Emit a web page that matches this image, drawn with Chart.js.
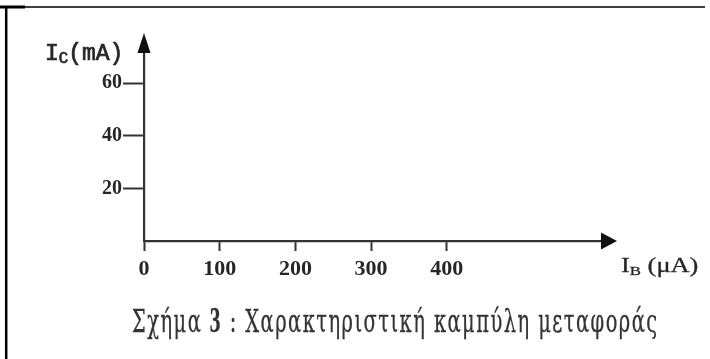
<!DOCTYPE html>
<html>
<head>
<meta charset="utf-8">
<script src="https://cdn.jsdelivr.net/npm/chart.js@4/dist/chart.umd.min.js"></script>
<style>
  html, body { margin: 0; padding: 0; background: #fff; }
  #wrap { width: 710px; height: 359px; position: relative; }
</style>
</head>
<body>
<div id="wrap"><canvas id="c" width="710" height="359"></canvas></div>
<script>
// ---- data (the reference is an empty transfer-characteristic grid) ----
const xTickValues = [0, 100, 200, 300, 400];      // I_B (μA)
const yTickValues = [20, 40, 60];                 // I_C (mA)
const xAxisMax = 605;
const yAxisMax = 71.8;
const seriesPoints = [];                           // no curve drawn in the reference
const yAxisTitle = ['I', 'C', '(mA)'];
const xAxisTitle = ['I', 'B', ' (μA)'];
const captionParts = ['Σχήμα ', '3', ' : Χαρακτηριστική καμπύλη μεταφοράς'];

const INK = '#262626';
const AXIS = '#333';

function fitText(ctx, parts, box) {
  ctx.save();
  ctx.letterSpacing = box.spacing || '0px';
  let adv = 0, asc = 0, desc = 0;
  const ms = [];
  parts.forEach(p => {
    ctx.font = p.font;
    const m = ctx.measureText(p.t);
    ms.push({ m, x: adv });
    adv += m.width;
    asc = Math.max(asc, m.actualBoundingBoxAscent - (p.dy || 0));
    desc = Math.max(desc, m.actualBoundingBoxDescent + (p.dy || 0));
  });
  const inkStart = -ms[0].m.actualBoundingBoxLeft;
  const last = ms[ms.length - 1];
  const inkEnd = last.x + last.m.actualBoundingBoxRight;
  const sx = (box.x1 - box.x0) / (inkEnd - inkStart);
  const sy = (box.y1 - box.y0) / (asc + desc);
  ctx.fillStyle = box.color || INK;
  ctx.strokeStyle = box.color || INK;
  ctx.lineWidth = box.stroke || 0;
  ctx.textAlign = 'left';
  ctx.textBaseline = 'alphabetic';
  ctx.translate(box.x0 - inkStart * sx, box.y0 + asc * sy);
  ctx.scale(sx, sy);
  parts.forEach((p, i) => {
    ctx.font = p.font;
    ctx.fillText(p.t, ms[i].x, p.dy || 0);
    if (box.stroke) ctx.strokeText(p.t, ms[i].x, p.dy || 0);
  });
  ctx.restore();
}

const decor = {
  id: 'decor',
  beforeDraw(chart) {
    const ctx = chart.ctx;
    ctx.save();
    ctx.fillStyle = '#fff';
    ctx.fillRect(0, 0, chart.width, chart.height);
    ctx.strokeStyle = '#000';
    ctx.lineWidth = 1.5;
    ctx.beginPath(); ctx.moveTo(0, 7); ctx.lineTo(705, 7); ctx.stroke();
    ctx.lineWidth = 3;
    ctx.beginPath(); ctx.moveTo(0, 7); ctx.lineTo(25, 7); ctx.stroke();
    ctx.lineWidth = 2.5;
    ctx.beginPath(); ctx.moveTo(6.2, 6); ctx.lineTo(6.2, 359); ctx.stroke();
    ctx.restore();
  },
  afterDraw(chart) {
    const ctx = chart.ctx;
    const a = chart.chartArea;
    ctx.save();
    ctx.fillStyle = '#111';
    ctx.beginPath();
    ctx.moveTo(a.left, a.top - 19);
    ctx.lineTo(a.left - 6.5, a.top + 1);
    ctx.lineTo(a.left + 6.5, a.top + 1);
    ctx.closePath(); ctx.fill();
    ctx.beginPath();
    ctx.moveTo(a.right + 15, a.bottom);
    ctx.lineTo(a.right - 1, a.bottom - 8.5);
    ctx.lineTo(a.right - 1, a.bottom + 8.5);
    ctx.closePath(); ctx.fill();
    ctx.restore();

    const mono = "'Liberation Mono', 'Courier New', monospace";
    const serif = "'Liberation Serif', 'Times New Roman', serif";
    const dserif = "'DejaVu Serif', 'Liberation Serif', serif";
    fitText(ctx, [
      { t: yAxisTitle[0], font: '22px ' + mono },
      { t: yAxisTitle[1], font: '15px ' + mono, dy: 3 },
      { t: yAxisTitle[2], font: '22px ' + mono }
    ], { x0: 47, x1: 120, y0: 43, y1: 65, stroke: 0.7 });
    fitText(ctx, [
      { t: xAxisTitle[0], font: '22px ' + serif },
      { t: xAxisTitle[1], font: '14px ' + serif, dy: 3 },
      { t: xAxisTitle[2], font: '22px ' + serif }
    ], { x0: 621, x1: 698, y0: 258, y1: 277, stroke: 0.3 });
    fitText(ctx, [
      { t: captionParts[0], font: '20px ' + dserif },
      { t: captionParts[1], font: 'bold 22px ' + serif },
      { t: captionParts[2], font: '20px ' + dserif }
    ], { x0: 132, x1: 657, y0: 304, y1: 338, color: '#333', stroke: 0.2, spacing: '1.5px' });
  }
};

new Chart(document.getElementById('c'), {
  type: 'scatter',
  data: { datasets: [{ data: seriesPoints, showLine: true, borderColor: INK, pointRadius: 0 }] },
  options: {
    responsive: false,
    animation: false,
    events: [],
    layout: { padding: { left: 0, right: 108, top: 52, bottom: 0 } },
    plugins: { legend: { display: false }, tooltip: { enabled: false }, title: { display: false } },
    scales: {
      x: {
        type: 'linear', min: 0, max: xAxisMax,
        afterBuildTicks: s => { s.ticks = xTickValues.map(v => ({ value: v })); },
        afterFit: s => { s.height = 118; },
        border: { display: true, color: AXIS, width: 2.2 },
        grid: { drawOnChartArea: false, drawTicks: true, tickLength: 10, tickWidth: 2, color: AXIS },
        ticks: {
          color: INK, padding: 5, maxRotation: 0, autoSkip: false,
          font: { family: "'Liberation Serif', 'Times New Roman', serif", size: 22, weight: 'bold' },
          callback: v => String(v)
        }
      },
      y: {
        type: 'linear', min: 0, max: yAxisMax,
        afterBuildTicks: s => { s.ticks = yTickValues.map(v => ({ value: v })); },
        afterFit: s => { s.width = 144; },
        border: { display: true, color: AXIS, width: 2.2 },
        grid: { drawOnChartArea: false, drawTicks: true, tickLength: 21, tickWidth: 2, color: AXIS },
        ticks: {
          color: INK, padding: 1, autoSkip: false,
          font: { family: "'Liberation Serif', 'Times New Roman', serif", size: 20, weight: 'bold' },
          callback: v => String(v)
        }
      }
    }
  },
  plugins: [decor]
});
</script>
</body>
</html>
